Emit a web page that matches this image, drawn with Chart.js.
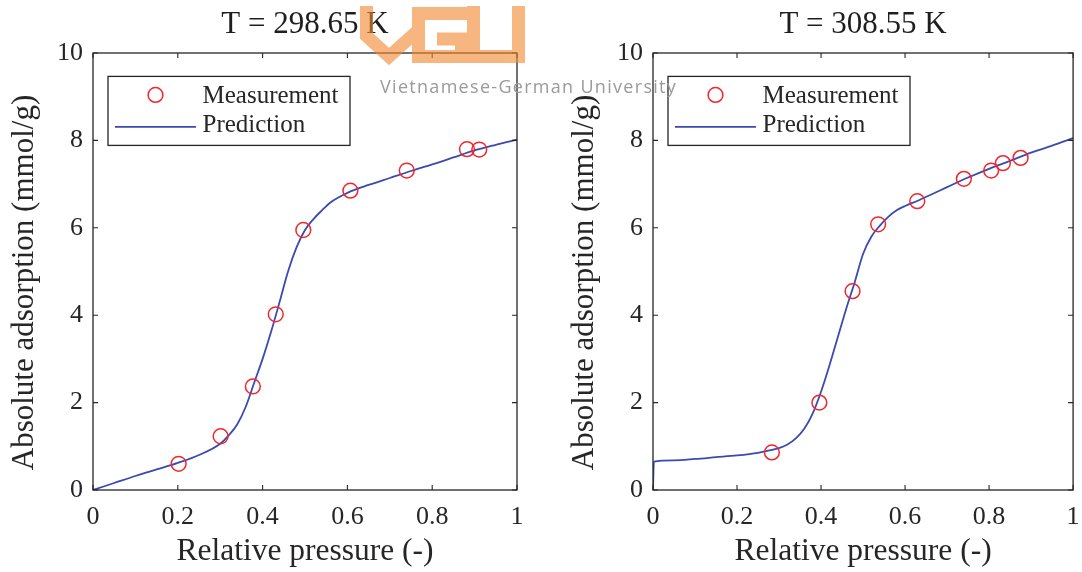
<!DOCTYPE html>
<html>
<head>
<meta charset="utf-8">
<script src="https://cdn.jsdelivr.net/npm/chart.js@4.4.1/dist/chart.umd.min.js"></script>
<style>
  html, body { margin: 0; padding: 0; background: #fff; }
  #wrap { position: relative; width: 1082px; height: 572px; overflow: hidden; }
  .pane { position: absolute; top: 0; width: 541px; height: 572px; }
  #wm { position: absolute; left: 0; top: 0; width: 1082px; height: 572px; pointer-events: none; }
  #wmtext { position: absolute; left: 380px; top: 74px; font: 18px "Open Sans", "DejaVu Sans", sans-serif;
            color: #9a9a9a; letter-spacing: 1.3px; white-space: nowrap; }
</style>
</head>
<body>
<div id="wrap">
  <div class="pane" style="left:0"><canvas id="c1" width="541" height="572"></canvas></div>
  <div class="pane" style="left:541px"><canvas id="c2" width="541" height="572"></canvas></div>
  <div id="wm">
    <svg width="1082" height="572" style="position:absolute;left:0;top:0">
      <g opacity="0.62" fill="none" stroke="#f28a32" stroke-width="13" stroke-linejoin="miter">
        <path d="M366.5 6 V36 L389 56.5 L418.5 30"/>
        <path d="M468 13.5 H418.5 V56.5 H461.5 V39 H437"/>
        <path d="M473.5 6 V56.5 H518.5 V6"/>
      </g>
    </svg>
    <div id="wmtext">Vietnamese-German University</div>
  </div>
</div>
<script>
// ---- tick labels ----
const xTickValues = [0, 0.2, 0.4, 0.6, 0.8, 1];
const xTickLabels = ['0', '0.2', '0.4', '0.6', '0.8', '1'];
const yTickValues = [0, 2, 4, 6, 8, 10];
const yTickLabels = ['0', '2', '4', '6', '8', '10'];

// ---- T = 298.65 K ----
const measX298 = [0.202, 0.301, 0.377, 0.431, 0.496, 0.607, 0.740, 0.882, 0.911];
const measY298 = [0.60, 1.23, 2.37, 4.02, 5.95, 6.85, 7.31, 7.80, 7.79];
const predX298 = [0, 0.05, 0.1, 0.15, 0.2, 0.25, 0.3, 0.32, 0.34, 0.36, 0.38, 0.40, 0.42, 0.44, 0.46, 0.48, 0.50, 0.52, 0.54, 0.56, 0.58, 0.60, 0.65, 0.70, 0.75, 0.80, 0.85, 0.90, 0.95, 1.0];
const predY298 = [0, 0.16, 0.32, 0.47, 0.62, 0.80, 1.06, 1.25, 1.5, 1.9, 2.45, 3.0, 3.62, 4.3, 5.0, 5.55, 5.95, 6.2, 6.4, 6.58, 6.70, 6.80, 6.98, 7.14, 7.30, 7.45, 7.61, 7.77, 7.90, 8.02];

// ---- T = 308.55 K ----
const measX308 = [0.283, 0.396, 0.475, 0.536, 0.629, 0.740, 0.805, 0.833, 0.875];
const measY308 = [0.86, 2.00, 4.55, 6.08, 6.61, 7.12, 7.31, 7.48, 7.60];
const predX308 = [0, 0.002, 0.05, 0.1, 0.15, 0.2, 0.25, 0.28, 0.30, 0.32, 0.34, 0.36, 0.38, 0.40, 0.42, 0.44, 0.46, 0.48, 0.50, 0.52, 0.54, 0.56, 0.58, 0.60, 0.63, 0.66, 0.70, 0.75, 0.80, 0.85, 0.90, 0.95, 1.0];
const predY308 = [0, 0.65, 0.68, 0.71, 0.75, 0.79, 0.85, 0.91, 0.96, 1.04, 1.18, 1.40, 1.75, 2.25, 2.85, 3.5, 4.15, 4.75, 5.4, 5.8, 6.05, 6.25, 6.40, 6.50, 6.62, 6.75, 6.93, 7.15, 7.35, 7.53, 7.72, 7.88, 8.05];

const titles = ['T = 298.65 K', 'T = 308.55 K'];
const seriesNames = ['Measurement', 'Prediction'];
const xTitle = 'Relative pressure (-)';
const yTitle = 'Absolute adsorption (mmol/g)';

const SERIF = '"Liberation Serif", "Times New Roman", serif';
const INK = '#262626';
const RED = '#f2262b';
const BLUE = '#3a4ab0';

function pts(xs, ys) { return xs.map((x, i) => ({ x: x, y: ys[i] })); }

const framePlugin = {
  id: 'frameAndLegend',
  afterDraw(chart, args, opts) {
    const ctx = chart.ctx, a = chart.chartArea;
    const xs = chart.scales.x, ys = chart.scales.y;
    ctx.save();
    // axes box
    ctx.strokeStyle = INK;
    ctx.lineWidth = 1.3;
    ctx.strokeRect(a.left, a.top, a.right - a.left, a.bottom - a.top);
    // inward ticks on all four sides
    ctx.lineWidth = 1.1;
    ctx.beginPath();
    xTickValues.forEach(v => {
      const p = xs.getPixelForValue(v);
      ctx.moveTo(p, a.bottom); ctx.lineTo(p, a.bottom - 5);
      ctx.moveTo(p, a.top); ctx.lineTo(p, a.top + 5);
    });
    yTickValues.forEach(v => {
      const p = ys.getPixelForValue(v);
      ctx.moveTo(a.left, p); ctx.lineTo(a.left + 5, p);
      ctx.moveTo(a.right, p); ctx.lineTo(a.right - 5, p);
    });
    ctx.stroke();
    // y axis title (rotated)
    ctx.save();
    ctx.translate(opts.yTitleX, (a.top + a.bottom) / 2 + 11);
    ctx.rotate(-Math.PI / 2);
    ctx.font = '31px ' + SERIF;
    ctx.fillStyle = INK;
    ctx.textAlign = 'center';
    ctx.textBaseline = 'middle';
    ctx.fillText(yTitle, 0, 0);
    ctx.restore();
    // legend
    const bx = a.left + 15, by = a.top + 23.4, bw = 242, bh = 69;
    ctx.fillStyle = '#fff';
    ctx.fillRect(bx, by, bw, bh);
    ctx.strokeStyle = INK;
    ctx.lineWidth = 1.3;
    ctx.strokeRect(bx, by, bw, bh);
    const d0 = chart.data.datasets[0], d1 = chart.data.datasets[1];
    ctx.beginPath();
    ctx.arc(bx + 47.5, by + 18.5, d0.pointRadius, 0, Math.PI * 2);
    ctx.strokeStyle = d0.borderColor;
    ctx.lineWidth = d0.borderWidth;
    ctx.stroke();
    ctx.beginPath();
    ctx.moveTo(bx + 7, by + 50.5);
    ctx.lineTo(bx + 88, by + 50.5);
    ctx.strokeStyle = d1.borderColor;
    ctx.lineWidth = d1.borderWidth;
    ctx.stroke();
    ctx.font = '25px ' + SERIF;
    ctx.fillStyle = INK;
    ctx.textBaseline = 'alphabetic';
    ctx.textAlign = 'left';
    ctx.fillText(d0.label, bx + 94.5, by + 26.5);
    ctx.fillText(d1.label, bx + 94.5, by + 56);
    ctx.restore();
  }
};

function makeChart(id, title, mx, my, px, py, yAxisWidth, padRight, yTitleX) {
  return new Chart(document.getElementById(id), {
    type: 'scatter',
    data: {
      datasets: [
        {
          label: seriesNames[0],
          data: pts(mx, my),
          showLine: false,
          pointStyle: 'circle',
          pointRadius: 7.4,
          pointHoverRadius: 7.4,
          borderColor: RED,
          backgroundColor: 'rgba(0,0,0,0)',
          borderWidth: 1.5,
          order: 0
        },
        {
          label: seriesNames[1],
          data: pts(px, py),
          showLine: true,
          pointRadius: 0,
          borderColor: BLUE,
          backgroundColor: BLUE,
          borderWidth: 1.8,
          cubicInterpolationMode: 'monotone',
          order: 1
        }
      ]
    },
    options: {
      responsive: false,
      animation: false,
      devicePixelRatio: 1,
      layout: { padding: { left: 0, right: padRight, top: 0, bottom: 0 } },
      plugins: {
        legend: { display: false },
        tooltip: { enabled: false },
        frameAndLegend: { yTitleX: yTitleX },
        title: {
          display: true,
          text: title,
          fullSize: false,
          color: '#1e1e1e',
          font: { family: SERIF, size: 31, weight: 'normal', lineHeight: 1.2 },
          padding: { top: 6, bottom: 9.8 }
        }
      },
      scales: {
        x: {
          type: 'linear',
          min: 0, max: 1,
          grid: { display: false, drawTicks: false },
          border: { display: false },
          afterBuildTicks: s => { s.ticks = xTickValues.map(v => ({ value: v })); },
          ticks: {
            padding: 12,
            color: INK,
            maxRotation: 0,
            font: { family: SERIF, size: 26 },
            callback: (v) => xTickLabels[xTickValues.indexOf(v)]
          },
          title: {
            display: true, text: xTitle, color: INK,
            font: { family: SERIF, size: 31.5, lineHeight: 1.2 },
            padding: { top: 0, bottom: 1.5 }
          },
          afterFit: s => { s.height = 82; s.paddingLeft = 0; s.paddingRight = 0; }
        },
        y: {
          type: 'linear',
          min: 0, max: 10,
          grid: { display: false, drawTicks: false },
          border: { display: false },
          afterBuildTicks: s => { s.ticks = yTickValues.map(v => ({ value: v })); },
          ticks: {
            padding: 10,
            color: INK,
            font: { family: SERIF, size: 26 },
            callback: (v) => yTickLabels[yTickValues.indexOf(v)]
          },
          title: { display: false, text: yTitle },
          afterFit: s => { s.width = yAxisWidth; s.paddingTop = 0; s.paddingBottom = 0; }
        }
      }
    },
    plugins: [framePlugin]
  });
}

makeChart('c1', titles[0], measX298, measY298, predX298, predY298, 93, 24, 25);
makeChart('c2', titles[1], measX308, measY308, predX308, predY308, 112, 5, 44);
</script>
</body>
</html>
